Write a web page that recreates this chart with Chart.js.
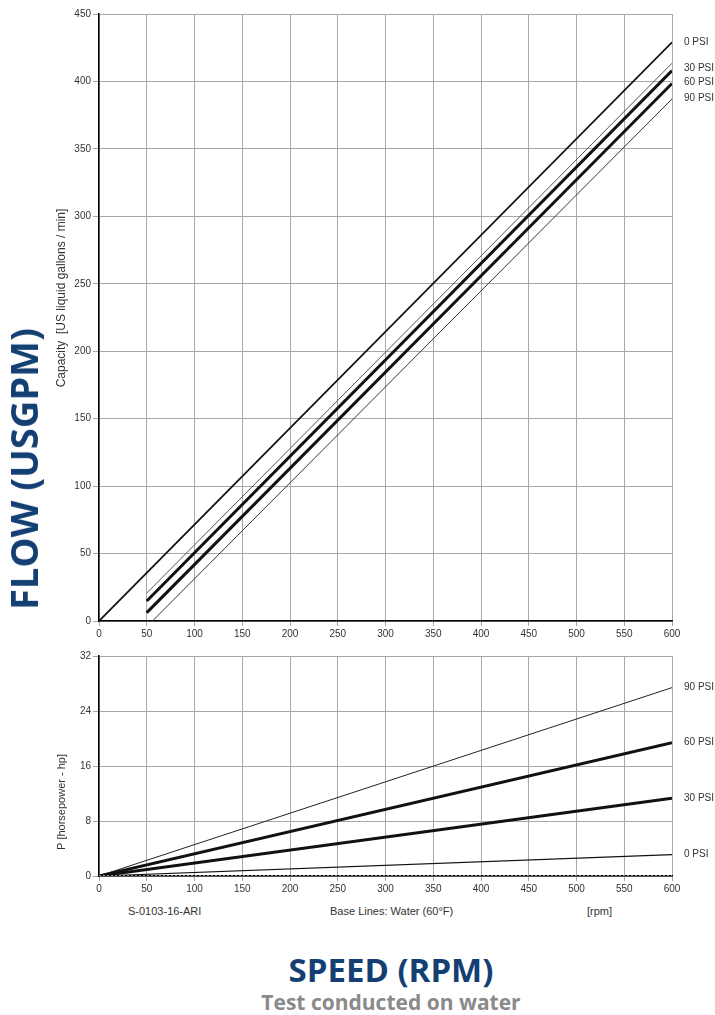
<!DOCTYPE html>
<html>
<head>
<meta charset="utf-8">
<script src="https://cdn.jsdelivr.net/npm/chart.js@4.4.1/dist/chart.umd.min.js"></script>
<style>
  html, body { margin: 0; padding: 0; background: #fff; }
  body { width: 715px; height: 1015px; position: relative; overflow: hidden; font-family: "Liberation Sans", Arial, sans-serif; }
  canvas { position: absolute; left: 0; }
  #flowChart { top: 0; }
  #powerChart { top: 640px; }
  .note { position: absolute; font-size: 11px; color: #333; top: 905px; }
  .big { position: absolute; font-family: "Open Sans", sans-serif; font-weight: 700; color: #143f73; white-space: nowrap; }
  #flowTitle { font-size: 38px; left: 23px; top: 469px; transform: translate(-50%, -50%) rotate(-90deg); }
  #speedTitle { font-size: 33px; left: 391px; top: 969px; transform: translate(-50%, -50%); }
  #testNote { font-size: 21px; color: #8a8a8a; left: 391px; top: 1002px; transform: translate(-50%, -50%); }
</style>
</head>
<body>
<canvas id="flowChart" width="715" height="640"></canvas>
<canvas id="powerChart" width="715" height="260"></canvas>

<div class="big" id="flowTitle">FLOW (USGPM)</div>
<div class="note" style="left:128px">S-0103-16-ARI</div>
<div class="note" style="left:330px">Base Lines: Water (60°F)</div>
<div class="note" style="left:587px">[rpm]</div>
<div class="big" id="speedTitle">SPEED (RPM)</div>
<div class="big" id="testNote">Test conducted on water</div>

<script>
// ---- Data ----
const speedTicks = 50;

// Capacity curves [rpm, gpm]
const flow0psi   = [[0, 0], [600, 429]];
const flowBandHi = [[50, 20.7], [600, 413.5]];
const flow30psi  = [[50, 14.8], [600, 408]];
const flow60psi  = [[50, 6.2], [600, 398.5]];
const flow90psi  = [[56, 0], [600, 387]];

const flowLabels   = ['0 PSI', '30 PSI', '60 PSI', '90 PSI'];
const flowLabelAt  = [429, 410, 399.5, 387.5];

// Power curves [rpm, hp]
const power0psi  = [[0, 0], [600, 3.1]];
const power30psi = [[0, 0], [600, 11.3]];
const power60psi = [[0, 0], [600, 19.4]];
const power90psi = [[0, 0], [600, 27.4]];
const powerBase  = [[0, 0], [600, 0]];

const powerLabels  = ['90 PSI', '60 PSI', '30 PSI', '0 PSI'];
const powerLabelAt = [27.4, 19.4, 11.3, 3.1];

// ---- Helpers ----
const tickFont = { family: '"Liberation Sans", Arial, sans-serif', size: 10 };
const toPts = arr => arr.map(p => ({ x: p[0], y: p[1] }));

const line = (data, width, color, dash) => ({
    data: toPts(data),
    borderColor: color || '#111',
    borderWidth: width,
    borderDash: dash || [],
    pointRadius: 0,
    fill: false,
    tension: 0
});

// PSI labels on the right of the plot + the rotated y title
const annotate = (texts, values, yTitle, titleY, titleSize) => ({
    id: 'annotate',
    afterDraw(chart) {
        const { ctx, chartArea, scales } = chart;
        ctx.save();
        ctx.font = '10px "Liberation Sans", Arial, sans-serif';
        ctx.fillStyle = '#333';
        ctx.textBaseline = 'middle';
        texts.forEach((t, i) => {
            ctx.fillText(t, chartArea.right + 12, scales.y.getPixelForValue(values[i]));
        });
        ctx.font = titleSize + 'px "Liberation Sans", Arial, sans-serif';
        ctx.translate(62, titleY);
        ctx.rotate(-Math.PI / 2);
        ctx.textAlign = 'center';
        ctx.fillText(yTitle, 0, 0);
        ctx.restore();
    }
});

const baseOptions = (yMax, yStep, pad) => ({
    responsive: false,
    animation: false,
    layout: { padding: pad },
    plugins: { legend: { display: false }, tooltip: { enabled: false } },
    scales: {
        x: {
            type: 'linear', min: 0, max: 600,
            ticks: { stepSize: speedTicks, font: tickFont, color: '#333', padding: 2 },
            grid: { color: '#a8a8a8', tickLength: 5 },
            border: { color: '#000', width: 1.5 },
            afterFit: s => { s.height = 19; }
        },
        y: {
            min: 0, max: yMax,
            ticks: { stepSize: yStep, font: tickFont, color: '#333', padding: 2 },
            grid: { color: '#a8a8a8', tickLength: 6 },
            border: { color: '#000', width: 1.5 },
            afterFit: s => { s.width = 47; }
        }
    }
});

// ---- Capacity chart ----
new Chart(document.getElementById('flowChart'), {
    type: 'line',
    data: {
        datasets: [
            line(flow0psi, 1.8),
            line(flowBandHi, 1, '#555'),
            line(flow30psi, 3),
            line(flow60psi, 3),
            line(flow90psi, 1, '#333')
        ]
    },
    options: baseOptions(450, 50, { left: 52, right: 43, top: 14, bottom: 0 }),
    plugins: [annotate(flowLabels, flowLabelAt, 'Capacity  [US liquid gallons / min]', 298, 12)]
});

// ---- Power chart ----
new Chart(document.getElementById('powerChart'), {
    type: 'line',
    data: {
        datasets: [
            line(powerBase, 1, '#fff', [2, 2]),
            line(power0psi, 1.2),
            line(power30psi, 3),
            line(power60psi, 3),
            line(power90psi, 1, '#222')
        ]
    },
    options: baseOptions(32, 8, { left: 52, right: 43, top: 16, bottom: 5 }),
    plugins: [annotate(powerLabels, powerLabelAt, 'P [horsepower - hp]', 162, 11)]
});
</script>
</body>
</html>
